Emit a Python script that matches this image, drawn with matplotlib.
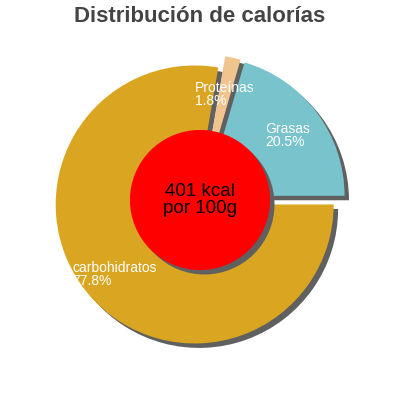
import matplotlib
matplotlib.use('Agg')
import matplotlib.pyplot as plt
import matplotlib.patches as mpatches

# data
labels = ['Grasas', 'Proteínas', 'carbohidratos']
percents = [20.5, 1.8, 77.8]
colors = ['#79C3CC', '#F0C48E', '#DAA520']
center_text = '401 kcal\npor 100g'
title = 'Distribución de calorías'

# layout (data units, pie radius = 1)
label_pos = [(0.468, 0.561), (-0.036, 0.856), (-0.921, -0.439)]
lim = 200 / 139
sh = 0.023  # shadow offset (data units * 72/dpi)

plt.rcParams['font.family'] = ['Liberation Sans', 'DejaVu Sans']

fig = plt.figure(figsize=(4, 4), dpi=100)
ax = fig.add_axes([0, 0, 1, 1])

wedges, _ = ax.pie(percents, colors=colors, startangle=0, counterclock=True,
                   explode=[0.05] * len(percents), radius=1, center=(0, 0),
                   wedgeprops={'linewidth': 0}, frame=True)
ax.set_xlim(-lim, lim)
ax.set_ylim(-lim, lim)
ax.set_aspect('equal')
ax.axis('off')
for w in wedges:
    w.set_zorder(2)
    ax.add_patch(mpatches.Shadow(w, sh, -sh, facecolor='#606060', edgecolor='none',
                                 alpha=1, zorder=1))

for lab, pct, (x, y) in zip(labels, percents, label_pos):
    ax.text(x, y, f'{lab}\n{pct}%', color='white', fontsize=10, ha='left', va='top',
            linespacing=0.9, zorder=5)

circ = mpatches.Circle((0, 0), 0.504, facecolor='#FF0000', edgecolor='none', zorder=4)
ax.add_patch(circ)
ax.add_patch(mpatches.Shadow(circ, sh, -sh, facecolor='#606060', edgecolor='none',
                             alpha=1, zorder=3))
ax.text(0, 0, center_text, ha='center', va='center', fontsize=13.5, color='black',
        linespacing=0.95, zorder=6)

fig.text(0.5, 0.985, title, ha='center', va='top', fontsize=16, fontweight='bold',
         color='#444444')

fig.savefig('out.png', dpi=100)
